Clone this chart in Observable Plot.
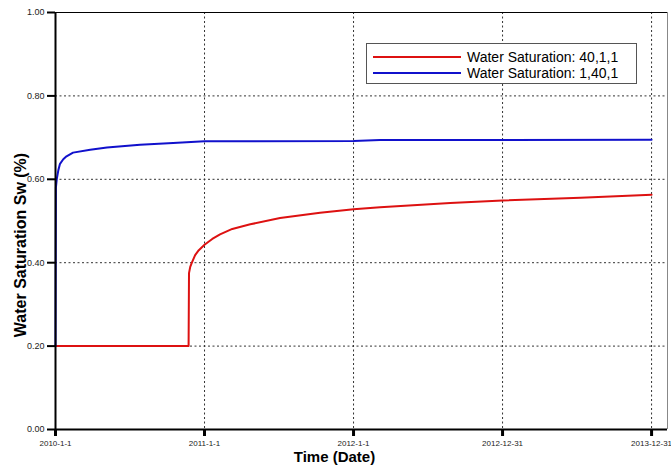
<!DOCTYPE html>
<html>
<head>
<meta charset="utf-8">
<script src="https://cdn.jsdelivr.net/npm/d3@7"></script>
<script src="https://cdn.jsdelivr.net/npm/@observablehq/plot@0.6"></script>
<style>
  html, body { margin: 0; padding: 0; background: #fff; }
  #chart { position: relative; width: 671px; height: 469px; }
  #chart svg { overflow: visible; }
  .legend {
    position: absolute; left: 366px; top: 43px; width: 271px; height: 41px;
    background: #fff; border: 1px solid #555; box-sizing: border-box;
    font-family: "Liberation Sans", Arial, sans-serif; font-size: 14px; color: #000;
  }
  .legend .row { position: absolute; left: 0; height: 16px; line-height: 16px; white-space: nowrap; }
  .legend .swatch { position: absolute; left: 6px; width: 88px; height: 0; border-top: 2px solid; top: 7px; }
  .legend .label { position: absolute; left: 100px; top: 0; }
</style>
</head>
<body>
<div id="chart"></div>
<script>
// Series 1: cell 40,1,1
const redNames = "Water Saturation: 40,1,1";
const redDates = ["2010-01-01","2010-11-23","2010-11-24","2010-11-27","2010-12-01","2010-12-09","2010-12-18","2011-01-01",
  "2011-01-20","2011-02-08","2011-03-10","2011-04-23","2011-07-05","2011-10-11","2012-01-01","2012-03-06",
  "2012-08-25","2012-12-31","2013-07-10","2013-12-31"];
const redValues = [0.20,0.20,0.375,0.39,0.40,0.418,0.43,0.443,
  0.457,0.468,0.481,0.492,0.507,0.520,0.528,0.533,
  0.543,0.549,0.556,0.563];

// Series 2: cell 1,40,1
const blueNames = "Water Saturation: 1,40,1";
const blueDates = ["2010-01-01","2010-01-02","2010-01-04","2010-01-08","2010-01-12","2010-01-20","2010-01-28","2010-02-13",
  "2010-03-27","2010-05-07","2010-07-27","2010-10-16","2011-01-01","2012-01-01","2012-03-06","2013-12-31"];
const blueValues = [0.20,0.58,0.60,0.622,0.637,0.648,0.655,0.664,
  0.671,0.676,0.683,0.687,0.691,0.692,0.694,0.695];

const seriesNames = [redNames, blueNames];
const seriesColors = ["#dd1111", "#1111cc"];

// Axis ticks
const xTickDates = ["2010-01-01","2011-01-01","2012-01-01","2012-12-31","2013-12-31"];
const xTickLabels = ["2010-1-1","2011-1-1","2012-1-1","2012-12-31","2013-12-31"];
const yTicks = [0, 0.2, 0.4, 0.6, 0.8, 1.0];
const xStart = "2010-01-01";
const xEnd = "2014-02-08";

const xLabel = "Time (Date)";
const yLabel = "Water Saturation Sw (%)";

const parse = d3.utcParse("%Y-%m-%d");
const rows = [
  ...redDates.map((d, i) => ({date: parse(d), value: redValues[i], series: redNames})),
  ...blueDates.map((d, i) => ({date: parse(d), value: blueValues[i], series: blueNames}))
];
const xTicks = xTickDates.map(parse);
const labelOf = new Map(xTicks.map((d, i) => [+d, xTickLabels[i]]));
const x0 = parse(xStart), x1 = parse(xEnd);

const chart = Plot.plot({
  width: 671,
  height: 469,
  marginLeft: 55,
  marginRight: 4,
  marginTop: 12,
  marginBottom: 40,
  style: {fontFamily: "'Liberation Sans', Arial, sans-serif", fontSize: "9px", color: "#222", background: "#fff"},
  x: {type: "utc", domain: [x0, x1]},
  y: {domain: [0, 1]},
  color: {domain: seriesNames, range: seriesColors},
  marks: [
    Plot.gridY(yTicks.filter(v => v > 0 && v < 1), {stroke: "#333", strokeOpacity: 1, strokeDasharray: "2,2.5"}),
    Plot.gridX(xTicks.slice(1), {stroke: "#333", strokeOpacity: 1, strokeDasharray: "2,2.5"}),
    Plot.ruleY([1], {stroke: "#000", strokeWidth: 1}),
    Plot.ruleX([x1], {stroke: "#888", strokeWidth: 1}),
    Plot.line(rows, {x: "date", y: "value", z: "series", stroke: "series", strokeWidth: 2}),
    Plot.axisY({ticks: yTicks, tickFormat: d3.format(".2f"), tickSize: 8, tickPadding: 3, strokeWidth: 2, stroke: "#000", label: null}),
    Plot.axisX({ticks: xTicks, tickFormat: d => labelOf.get(+d), tickSize: 7, tickPadding: 4, strokeWidth: 3, stroke: "#000", fontSize: 8, label: null}),
    Plot.ruleX([x0], {stroke: "#000", strokeWidth: 2}),
    Plot.ruleY([0], {stroke: "#000", strokeWidth: 2}),
    Plot.text([xLabel], {frameAnchor: "bottom", dx: -27, dy: 32, fontSize: 15, fontWeight: "bold", fill: "#000"}),
    Plot.text([yLabel], {frameAnchor: "left", textAnchor: "middle", rotate: -90, dx: -35, dy: 24, fontSize: 16, fontWeight: "bold", fill: "#000"})
  ]
});

const host = document.getElementById("chart");
host.appendChild(chart);

// Legend box drawn on top of the plot
const legend = document.createElement("div");
legend.className = "legend";
seriesNames.forEach((name, i) => {
  const row = document.createElement("div");
  row.className = "row";
  row.style.top = (5 + i * 16) + "px";
  row.style.width = "100%";
  const sw = document.createElement("span");
  sw.className = "swatch";
  sw.style.borderTopColor = seriesColors[i];
  const lb = document.createElement("span");
  lb.className = "label";
  lb.textContent = name;
  row.appendChild(sw);
  row.appendChild(lb);
  legend.appendChild(row);
});
host.appendChild(legend);
</script>
</body>
</html>
